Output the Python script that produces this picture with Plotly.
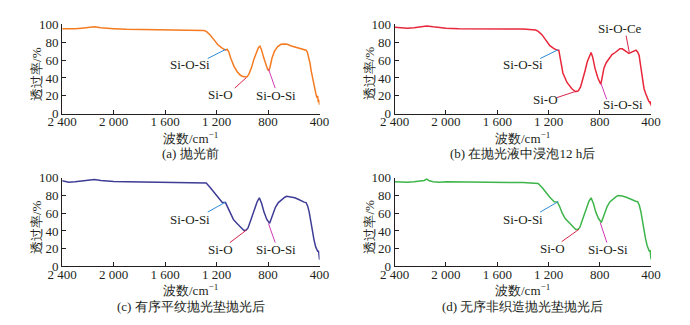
import plotly.graph_objects as go

W, H = 690, 325

# ---------------- data ----------------
wn_a = [2400, 2350, 2300, 2250, 2200, 2150, 2100, 2050, 2000, 1900, 1800, 1700, 1600, 1500, 1400, 1300,
        1280, 1250, 1220, 1190, 1160, 1130, 1118, 1105, 1090, 1065, 1040, 1015, 995, 980, 965, 950, 930,
        910, 890, 875, 863, 850, 835, 820, 805, 795, 785, 770, 750, 725, 700, 675, 650, 625, 600, 575,
        550, 525, 505, 495, 485, 475, 465, 455, 445, 435, 428, 420, 415, 410, 405, 400]
t_a = [95, 94.5, 94.8, 95.5, 96.5, 97, 96, 95.2, 95, 94.3, 94, 94, 93.8, 93.7, 93.6, 93,
       92, 88, 82.5, 77, 73.5, 71, 72, 69, 62, 53, 47, 43, 41.5, 41, 41, 44, 51,
       61, 69, 74, 75.5, 71, 63, 55, 50, 48, 52, 62, 70, 75, 77.5, 78, 77.5, 76, 75, 73.5,
       72.5, 72, 71, 69, 64, 57, 48, 40, 32, 26, 22, 18, 20, 13, 16, 10]

wn_b = [2400, 2350, 2300, 2250, 2200, 2150, 2100, 2050, 2000, 1900, 1800, 1700, 1600, 1500, 1400, 1300,
        1280, 1250, 1220, 1190, 1160, 1135, 1120, 1106, 1088, 1056, 1018, 988, 968, 950, 931, 915, 898,
        880, 868, 855, 838, 815, 800, 793, 785, 768, 750, 730, 705, 680, 660, 643, 625, 605, 590, 573,
        555, 540, 530, 518, 505, 493, 480, 468, 455, 443, 430, 418, 410, 405, 402, 400]
t_b = [96.5, 96, 95.5, 96, 97, 98, 97, 96, 95.5, 95, 94.8, 95, 95, 94.8, 94.5, 93.5,
       92, 88, 82, 76, 73, 71, 71, 58, 45.6, 35, 28, 24.6, 25.6, 30, 38.6, 48, 58,
       65, 68.4, 63, 51, 40, 35, 33, 38, 51, 57, 61, 66, 68.4, 71, 72.6, 72.5, 71, 69, 67.4,
       68.5, 69.5, 70, 71, 69, 65, 52, 37, 28, 23, 18, 14, 13, 11, 14, 9]

wn_c = [2400, 2350, 2300, 2250, 2200, 2150, 2100, 2050, 2000, 1900, 1800, 1700, 1600, 1500, 1400, 1300,
        1281, 1250, 1219, 1190, 1156, 1131, 1112, 1093, 1070, 1043, 1015, 988, 970, 956, 930, 906, 885,
        868, 850, 831, 810, 788, 770, 743, 720, 693, 670, 656, 625, 593, 570, 543, 520, 505, 492, 480,
        468, 455, 443, 430, 420, 413, 408, 404, 400]
t_c = [96.5, 95, 95.5, 96.5, 97.5, 98, 97, 96, 95.7, 95.5, 95.2, 95.3, 95, 95, 94.8, 94.5,
       94, 89, 83, 77.5, 72, 72, 66, 59.5, 53, 48.7, 44, 40.5, 41, 43.4, 54, 65, 73,
       77.4, 71, 61, 53, 48.7, 56, 66.7, 72, 75.6, 78, 79, 78.5, 77.4, 76, 73.8, 72.5, 72, 68, 61,
       50, 39.8, 30, 22, 18, 16.5, 18, 12, 7.5]

wn_d = [2400, 2350, 2300, 2250, 2200, 2170, 2150, 2130, 2100, 2050, 2000, 1900, 1800, 1700, 1600, 1500, 1400, 1300,
        1281, 1250, 1219, 1190, 1156, 1131, 1112, 1093, 1070, 1043, 1015, 988, 970, 956, 930, 906, 885,
        868, 850, 831, 810, 788, 770, 743, 720, 693, 670, 656, 625, 593, 570, 543, 520, 505, 492, 480,
        468, 455, 443, 430, 420, 413, 408, 404, 400]
t_d = [95.5, 95, 95, 95.5, 96, 97, 98.5, 96.5, 95.5, 95, 95.5, 95.2, 95, 94.8, 94.8, 94.7, 94.6, 94.2,
       93.5, 89, 83, 78, 73, 72.8, 67, 60, 54, 49.5, 45, 41.6, 42, 44, 55, 66, 73.5,
       77.4, 71, 61, 54, 49.5, 57, 67.5, 73, 76.5, 79, 80, 79.5, 78, 76.5, 74.5, 73.5, 73, 69, 62,
       51, 40, 31, 23, 19, 17, 18.5, 12, 8]

captions = ["(a) 抛光前", "(b) 在抛光液中浸泡12 h后", "(c) 有序平纹抛光垫抛光后", "(d) 无序非织造抛光垫抛光后"]
line_colors = ["#F47B20", "#E8273A", "#3F3C96", "#3DB54A"]
tick_vals = [2400, 2000, 1600, 1200, 800, 400]
tick_text = ["2 400", "2 000", "1 600", "1 200", "800", "400"]
y_ticks = [0, 20, 40, 60, 80, 100]

# label annotations per panel: (text, text_wn, text_T, line_from_wn, line_from_T, line_to_wn, line_to_T, color)
C_BLUE, C_RED, C_MAG = "#2E8BD8", "#D7264B", "#D23AB5"
labels = [
    [("Si-O-Si", 1404, 55.3, 1269, 61.7, 1128, 72.0, C_BLUE),
     ("Si-O", 1172, 21.3, 1059, 28.7, 969, 40.4, C_RED),
     ("Si-O-Si", 737, 20.2, 745, 28.7, 797, 50.0, C_MAG)],
    [("Si-O-Si", 1400, 55.3, 1265, 61.7, 1125, 71.5, C_BLUE),
     ("Si-O", 1227, 16.0, 1137, 18.0, 979, 25.5, C_RED),
     ("Si-O-Si", 618, 10.6, 746, 16.0, 791, 34.0, C_MAG),
     ("Si-O-Ce", 641, 94.7, 595, 87.2, 570, 68.5, C_RED)],
    [("Si-O-Si", 1404, 52.7, 1269, 61.3, 1131, 72.5, C_BLUE),
     ("Si-O", 1172, 19.4, 1097, 26.9, 969, 40.9, C_RED),
     ("Si-O-Si", 737, 19.4, 745, 26.9, 797, 48.4, C_MAG)],
    [("Si-O-Si", 1400, 52.7, 1265, 61.3, 1125, 73.0, C_BLUE),
     ("Si-O", 1172, 20.4, 1097, 28.0, 962, 41.9, C_RED),
     ("Si-O-Si", 737, 19.4, 745, 26.9, 797, 49.5, C_MAG)],
]

wns = [wn_a, wn_b, wn_c, wn_d]
ts = [t_a, t_b, t_c, t_d]

# ---------------- layout geometry (pixels) ----------------
panels = [  # left, right, top, bottom of plotting area
    (49, 316, 18, 112),
    (394, 660, 18, 112),
    (49, 316, 179, 272),
    (394, 660, 179, 272),
]

SERIF = "Liberation Serif"
TXT = "#231F20"

fig = go.Figure()
layout = dict(
    width=W, height=H, margin=dict(l=0, r=0, t=0, b=0),
    paper_bgcolor="white", plot_bgcolor="white", showlegend=False,
    font=dict(family=SERIF, size=13, color=TXT),
)
annotations = []
shapes = []


def txt_ann(text, **kw):
    d = dict(text=text, showarrow=False, xanchor="center", yanchor="middle",
             font=dict(family=SERIF, size=13, color=TXT))
    d.update(kw)
    return d


for i in range(4):
    sfx = "" if i == 0 else str(i + 1)
    xa, ya = "x" + sfx, "y" + sfx
    l, r, t, b = panels[i]
    fig.add_trace(go.Scatter(x=wns[i], y=ts[i], mode="lines", xaxis=xa, yaxis=ya,
                             line=dict(color=line_colors[i], width=1.5), hoverinfo="skip"))
    layout["xaxis" + sfx] = dict(
        domain=[l / W, r / W], anchor=ya, range=[2400, 400], autorange=False,
        tickmode="array", tickvals=tick_vals, ticktext=tick_text,
        ticks="inside", ticklen=4, tickwidth=1, tickcolor=TXT, ticklabelstandoff=-4,
        showline=True, linecolor=TXT, linewidth=1, showgrid=False, zeroline=False,
        tickfont=dict(family=SERIF, size=13, color=TXT),
    )
    layout["yaxis" + sfx] = dict(
        domain=[1 - b / H, 1 - t / H], anchor=xa, range=[0, 100], autorange=False,
        tickmode="array", tickvals=y_ticks,
        ticks="inside", ticklen=4, tickwidth=1, tickcolor=TXT,
        showline=True, linecolor=TXT, linewidth=1, showgrid=False, zeroline=False,
        tickfont=dict(family=SERIF, size=13, color=TXT),
    )
    cx = (l + r) / 2
    annotations.append(txt_ann("波数/cm<sup>−1</sup>", xref="paper", yref="paper",
                               x=cx / W, y=1 - (b + 25) / H))
    annotations.append(txt_ann(captions[i], xref="paper", yref="paper",
                               x=cx / W, y=1 - (b + 42) / H))
    annotations.append(txt_ann("透过率/%", xref="paper", yref="paper", textangle=-90,
                               x=(l - 26) / W, y=1 - ((t + b) / 2 + 5) / H))
    for (txt, tx, ty, x0, y0, x1, y1, col) in labels[i]:
        annotations.append(txt_ann(txt, xref=xa, yref=ya, x=tx, y=ty))
        shapes.append(dict(type="line", xref=xa, yref=ya, x0=x0, y0=y0, x1=x1, y1=y1,
                           line=dict(color=col, width=1)))

layout["annotations"] = annotations
layout["shapes"] = shapes
fig.update_layout(**layout)
fig.write_html("out.html")
